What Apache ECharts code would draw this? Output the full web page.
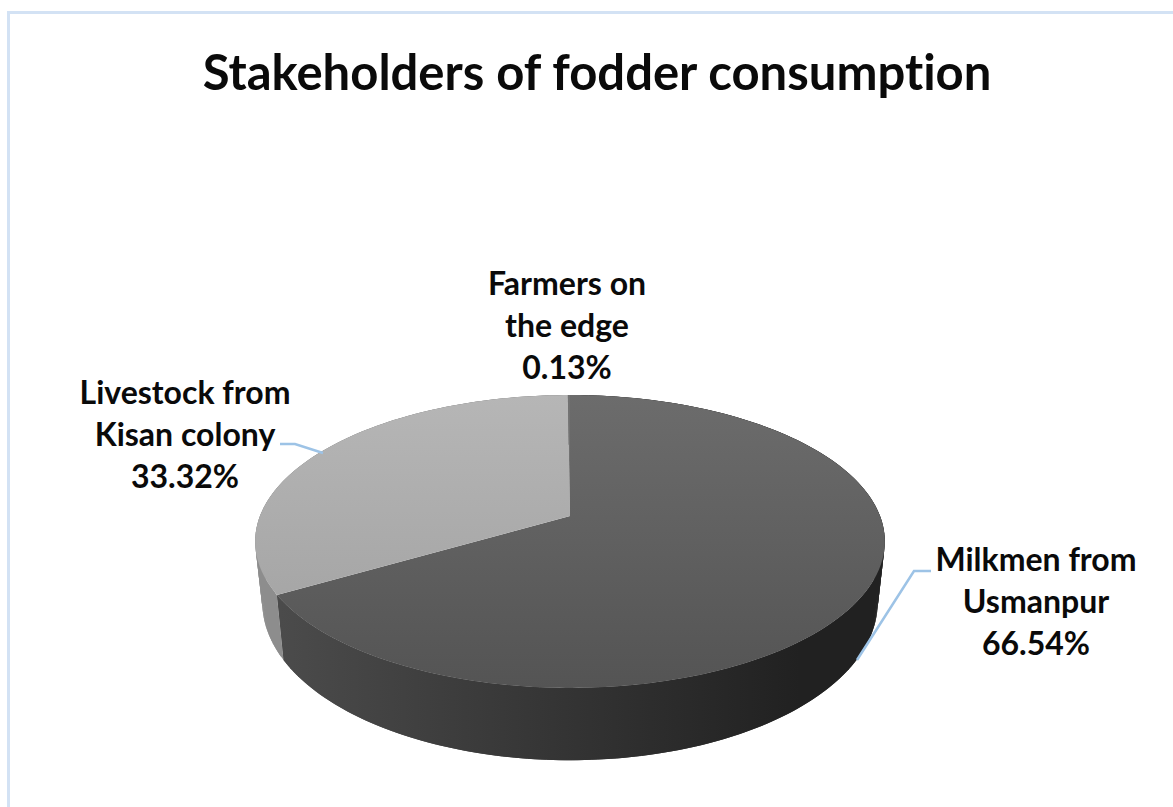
<!DOCTYPE html>
<html>
<head>
<meta charset="utf-8">
<title>Stakeholders of fodder consumption</title>
<style>
html,body{margin:0;padding:0;background:#fff}
#chart{width:1173px;height:807px}
#chart text{font-variant-ligatures:none}
</style>
<script src="https://cdn.jsdelivr.net/npm/echarts@6/dist/echarts.min.js"></script>
</head>
<body>
<div id="chart"></div>
<script>
const titleText = 'Stakeholders of fodder consumption';
const categories = ['Milkmen from\nUsmanpur', 'Livestock from\nKisan colony', 'Farmers on\nthe edge'];
const shares = [66.54, 33.32, 0.13];

// Perspective disc: rim point (u, v) on the unit circle maps through a simple homography.
const CX = 570, TILT = 0.174;
const TOP_RIM = { cy: 516, rx: 310, ry: 142 };
const BOTTOM_RIM = { cy: 575, rx: 303, ry: 153 };

const topFills = [['#6c6c6c', '#545454'], ['#b6b6b6', '#9f9f9f'], ['#727272', '#727272']];
const wallFills = [['#4b4b4b', '#212121'], ['#8d8d8d', '#7f7f7f'], ['#707070', '#707070']];
const labelAnchors = [[1036, 537], [185, 370], [567, 261]];
const leaders = [
  [[931, 571], [914, 571], [857, 660]],
  [[280, 444], [295, 444], [323, 453]],
  null
];

function project(rim, deg) {
  const a = deg * Math.PI / 180;
  const u = Math.sin(a), v = -Math.cos(a), w = 1 - TILT * v;
  return [CX + rim.rx * u / w, rim.cy + rim.ry * v / w];
}
function arc(rim, from, to) {
  const n = Math.max(2, Math.ceil(Math.abs(to - from)));
  const pts = [];
  for (let i = 0; i <= n; i++) pts.push(project(rim, from + (to - from) * i / n));
  return pts;
}
const total = shares.reduce((s, x) => s + x, 0);
function startAngle(index) {
  let sum = 0;
  for (let i = 0; i < index; i++) sum += shares[i];
  return sum / total * 360;
}
function vertical(stops) {
  return new echarts.graphic.LinearGradient(0, 395, 0, 688, [
    { offset: 0, color: stops[0] }, { offset: 1, color: stops[1] }
  ], true);
}
function horizontal(stops) {
  return new echarts.graphic.LinearGradient(280, 0, 800, 0, [
    { offset: 0, color: stops[0] }, { offset: 1, color: stops[1] }
  ], true);
}

function renderSlice(params, api) {
  const i = params.dataIndex;
  const value = api.value(0);
  const from = startAngle(i), to = from + value / total * 360;
  const children = [];
  const upper = arc(TOP_RIM, from, to), lower = arc(BOTTOM_RIM, from, to);
  const wallFill = horizontal(wallFills[i]);
  // The wall is swept as overlapping quads so its outline follows the straight tangent of the cylinder.
  for (let j = 0; j < upper.length - 1; j++) {
    const k = Math.min(j + 2, upper.length - 1);
    children.push({ type: 'polygon', z2: 1,
      shape: { points: [upper[j], upper[k], lower[k], lower[j]] },
      style: { fill: wallFill } });
  }
  const face = [[CX, TOP_RIM.cy]].concat(upper);
  children.push({ type: 'polygon', z2: 10, shape: { points: face }, style: { fill: vertical(topFills[i]) } });
  if (leaders[i]) {
    children.push({ type: 'polyline', z2: 20, shape: { points: leaders[i] },
      style: { stroke: '#9dc3e6', lineWidth: 2.5, fill: 'none' } });
  }
  children.push({ type: 'text', z2: 30, style: {
    x: labelAnchors[i][0], y: labelAnchors[i][1],
    text: categories[i] + '\n' + value.toFixed(2) + '%',
    align: 'center', verticalAlign: 'top', lineHeight: 42,
    font: 'bold 32px Lato, sans-serif', fill: '#0a0a0a'
  } });
  return { type: 'group', children };
}

const chart = echarts.init(document.getElementById('chart'), null, { renderer: 'svg' });
chart.setOption({
  animation: false,
  backgroundColor: '#ffffff',
  title: {
    text: titleText, left: 597, top: 41, textAlign: 'center',
    textStyle: { fontFamily: 'Lato, sans-serif', fontWeight: 'bold', fontSize: 49, color: '#0a0a0a' }
  },
  graphic: [{
    type: 'rect', silent: true,
    shape: { x: 8.5, y: 12.5, width: 1400, height: 1000 },
    style: { fill: 'none', stroke: '#d3e2f4', lineWidth: 3 }
  }],
  series: [{
    type: 'custom',
    coordinateSystem: 'none',
    renderItem: renderSlice,
    data: categories.map((name, i) => ({ name, value: [shares[i]] }))
  }]
});
chart.setOption({ title: { left: 592 } });
</script>
</body>
</html>
